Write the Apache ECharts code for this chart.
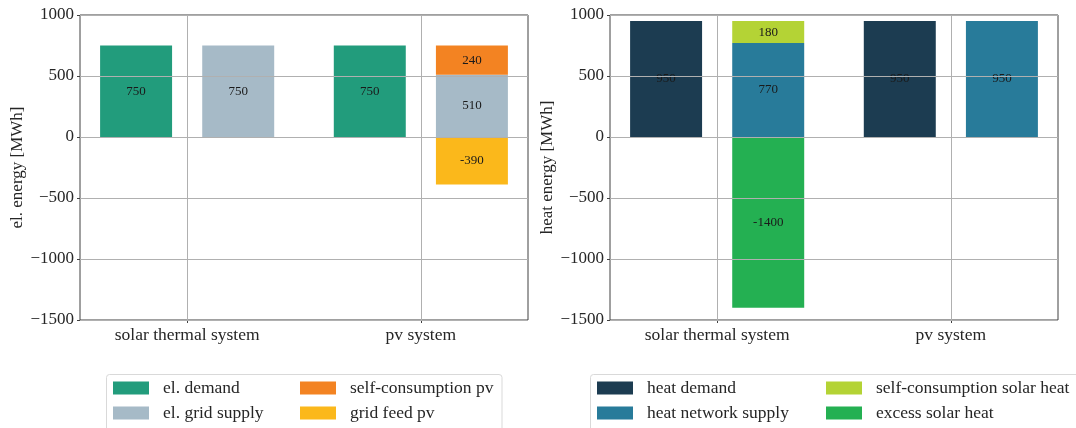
<!DOCTYPE html>
<html>
<head>
<meta charset="utf-8">
<script src="https://cdn.jsdelivr.net/npm/echarts@6/dist/echarts.min.js"></script>
<style>
  html, body { margin: 0; padding: 0; background: #ffffff; }
  #chart { width: 1076px; height: 428px; }
</style>
</head>
<body>
<div id="chart"></div>
<script>
// Energy balance of the two supply concepts (MWh per year)
const categories = ['solar thermal system', 'pv system'];

// electricity
const elDemand = [750, 750];
const elGridSupply = [750, 510];
const selfConsumptionPv = [null, 240];
const gridFeedPv = [null, -390];

// heat
const heatDemand = [950, 950];
const heatNetworkSupply = [770, 950];
const selfConsumptionSolarHeat = [180, null];
const excessSolarHeat = [-1400, null];

// value axis range / ticks
const yMin = -1500;
const yMax = 1000;
const yStep = 500;

const FONT = '"Liberation Serif", "DejaVu Serif", serif';
const TEXT = '#262626';
const OFFSET = 0.2185;     // bar centre offset from the category position
const BAR_WIDTH = 0.308;   // bar width in axis units
const X_PAD = 0.4585;      // x range padding around the categories

// Demand goes in the left slot of each category, the supply mix is stacked
// in the right slot (positives upward, negatives downward, in series order).
function buildPanel(defs) {
  const posTop = {}, negTop = {};
  return defs.map(d => {
    const data = [];
    d.values.forEach((v, i) => {
      if (v == null) return;
      const x = i + d.side * OFFSET;
      const key = i + ':' + d.side;
      const store = v >= 0 ? posTop : negTop;
      const base = store[key] || 0;
      store[key] = base + v;
      data.push([x, base, base + v, v]);
    });
    return { name: d.name, color: d.color, data: data };
  });
}

function barSeries(p, gridIndex) {
  return {
    name: p.name,
    type: 'custom',
    xAxisIndex: gridIndex,
    yAxisIndex: gridIndex,
    z: 2,
    itemStyle: { color: p.color },
    encode: { x: 0, y: [1, 2] },
    renderItem: (params, api) => {
      const x = api.value(0);
      const a = api.coord([x, api.value(1)]);
      const b = api.coord([x, api.value(2)]);
      const w = api.size([BAR_WIDTH, 0])[0];
      return {
        type: 'rect',
        shape: { x: a[0] - w / 2, y: Math.min(a[1], b[1]), width: w, height: Math.abs(a[1] - b[1]) },
        style: { fill: api.visual('color') },
        textContent: {
          style: { text: String(api.value(3)), fill: '#1a1a1a', fontSize: 13, fontFamily: FONT }
        },
        textConfig: { position: 'inside' }
      };
    },
    data: p.data
  };
}

function xAxisFor(gridIndex) {
  const ticks = categories.map((c, i) => i);
  return {
    type: 'value',
    gridIndex: gridIndex,
    min: -X_PAD,
    max: categories.length - 1 + X_PAD,
    axisLine: { show: false, onZero: false },
    axisTick: { show: true, customValues: ticks, length: 3, lineStyle: { color: '#404040' } },
    axisLabel: {
      customValues: ticks,
      formatter: v => categories[Math.round(v)] || '',
      fontFamily: FONT, fontSize: 17.5, color: TEXT, margin: 6
    },
    splitLine: { show: true, lineStyle: { color: '#b0b0b0', width: 1 } }
  };
}

function yAxisFor(gridIndex, name) {
  return {
    type: 'value',
    gridIndex: gridIndex,
    min: yMin, max: yMax, interval: yStep,
    z: 3,
    name: name,
    nameLocation: 'middle',
    nameGap: 54,
    nameTextStyle: { fontFamily: FONT, fontSize: 17, color: TEXT },
    axisLine: { show: false, onZero: false },
    axisTick: { show: true, length: 3, lineStyle: { color: '#404040' } },
    axisLabel: {
      fontFamily: FONT, fontSize: 17, color: TEXT, margin: 6,
      formatter: v => String(v).replace('-', '\u2212')
    },
    splitLine: { show: true, lineStyle: { color: '#b0b0b0', width: 1 } }
  };
}

function legendCol(names, left) {
  return {
    data: names,
    orient: 'vertical',
    left: left,
    top: 379,
    padding: 0,
    itemWidth: 36,
    itemHeight: 13,
    itemGap: 7,
    icon: 'rect',
    textStyle: { fontFamily: FONT, fontSize: 17.5, color: TEXT, lineHeight: 15, padding: [0, 0, 0, 9] }
  };
}

const elPanel = buildPanel([
  { name: 'el. demand', values: elDemand, side: -1, color: '#229c7c' },
  { name: 'el. grid supply', values: elGridSupply, side: 1, color: '#a6bac7' },
  { name: 'self-consumption pv', values: selfConsumptionPv, side: 1, color: '#f38322' },
  { name: 'grid feed pv', values: gridFeedPv, side: 1, color: '#fbb81b' }
]);
const heatPanel = buildPanel([
  { name: 'heat demand', values: heatDemand, side: -1, color: '#1c3c51' },
  { name: 'heat network supply', values: heatNetworkSupply, side: 1, color: '#287b9a' },
  { name: 'self-consumption solar heat', values: selfConsumptionSolarHeat, side: 1, color: '#b4d335' },
  { name: 'excess solar heat', values: excessSolarHeat, side: 1, color: '#24b052' }
]);

const chart = echarts.init(document.getElementById('chart'), null, { renderer: 'canvas' });

chart.setOption({
  animation: false,
  backgroundColor: '#ffffff',
  grid: [
    { left: 80, top: 15, width: 448, height: 305, show: true, borderColor: '#404040', borderWidth: 1, backgroundColor: 'transparent' },
    { left: 610, top: 15, width: 448, height: 305, show: true, borderColor: '#404040', borderWidth: 1, backgroundColor: 'transparent' }
  ],
  xAxis: [xAxisFor(0), xAxisFor(1)],
  yAxis: [yAxisFor(0, 'el. energy [MWh]'), yAxisFor(1, 'heat energy [MWh]')],
  legend: [
    legendCol(['el. demand', 'el. grid supply'], 113),
    legendCol(['self-consumption pv', 'grid feed pv'], 300),
    legendCol(['heat demand', 'heat network supply'], 597),
    legendCol(['self-consumption solar heat', 'excess solar heat'], 826)
  ],
  graphic: [
    { type: 'rect', z: -1, silent: true, shape: { x: 106.5, y: 374.5, width: 395.5, height: 70, r: 3 },
      style: { fill: '#ffffff', stroke: '#d9d9d9', lineWidth: 1 } },
    { type: 'rect', z: -1, silent: true, shape: { x: 590.5, y: 374.5, width: 520, height: 70, r: 3 },
      style: { fill: '#ffffff', stroke: '#d9d9d9', lineWidth: 1 } }
  ],
  series: elPanel.map(p => barSeries(p, 0)).concat(heatPanel.map(p => barSeries(p, 1)))
});
</script>
</body>
</html>
